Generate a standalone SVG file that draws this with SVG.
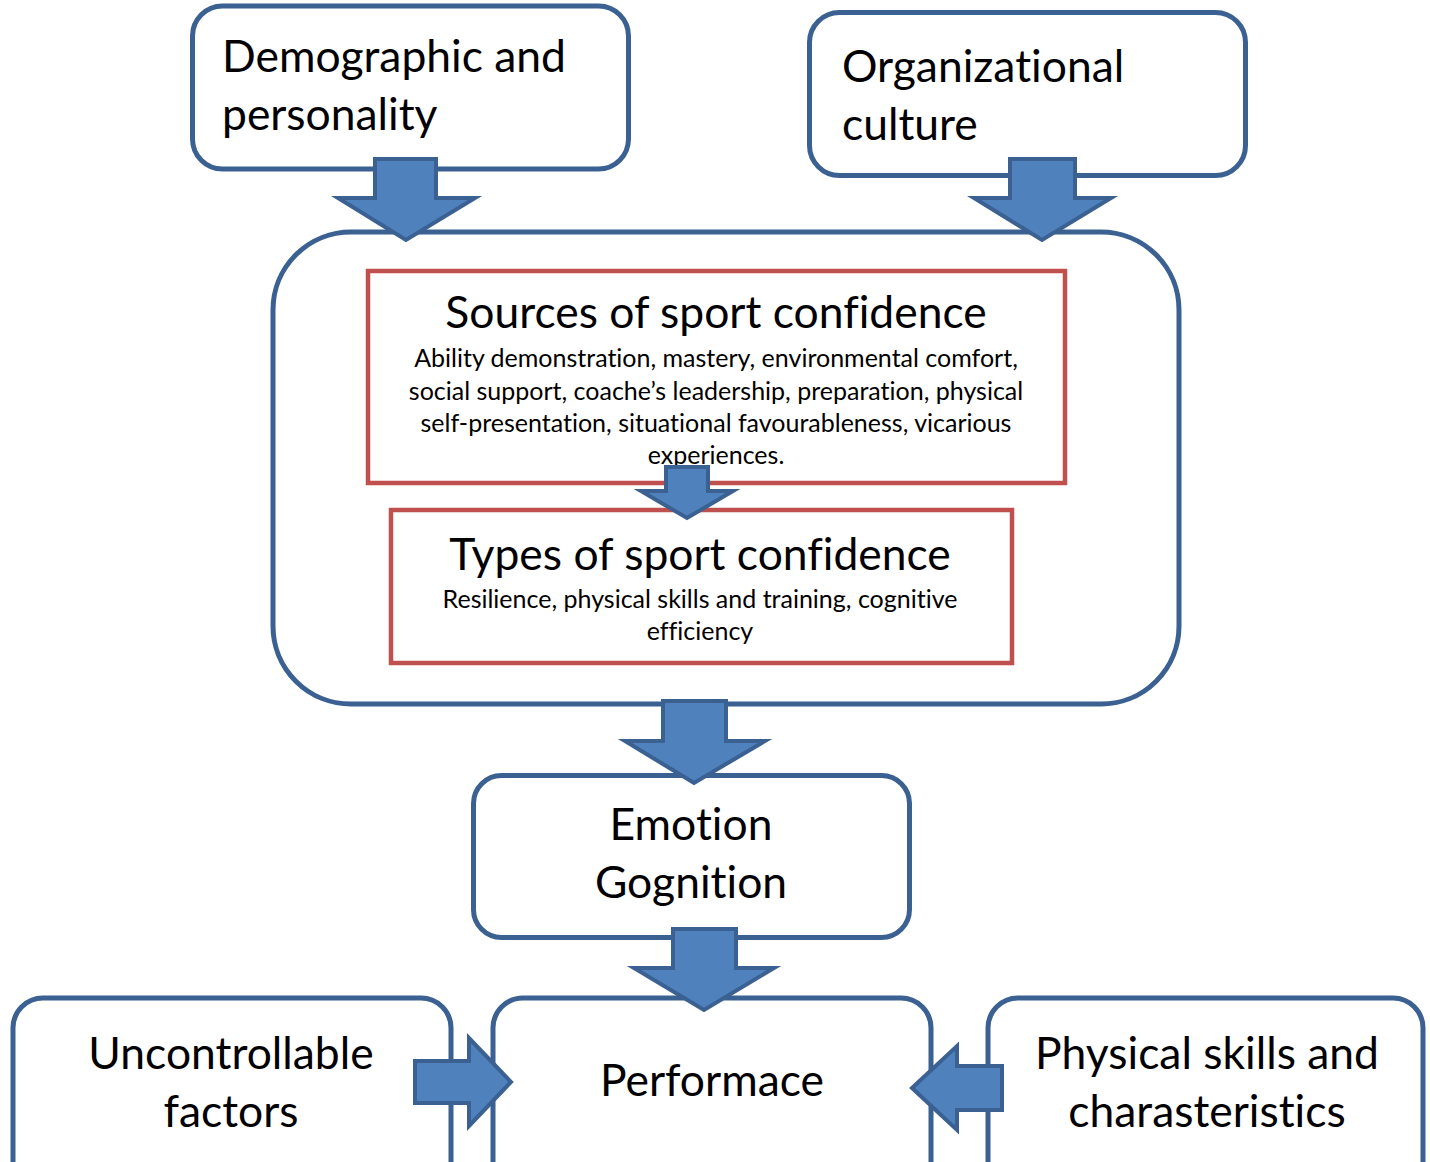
<svg xmlns="http://www.w3.org/2000/svg" width="1430" height="1162" viewBox="0 0 1430 1162">
<style>
.box{fill:#fff;stroke:#3A6191;stroke-width:5}
.red{fill:#fff;stroke:#C0504D;stroke-width:4.5}
.arr{fill:#4F81BD;stroke:#3A6191;stroke-width:4;stroke-linejoin:miter}
.big{font-family:Lato,"Open Sans",sans-serif;font-size:44.4px;fill:#000;font-variant-ligatures:none;font-feature-settings:"liga" 0}
.sm{font-family:Lato,"Open Sans",sans-serif;font-size:25px;fill:#000;font-variant-ligatures:none;font-feature-settings:"liga" 0}
.c{text-anchor:middle}
</style>
<rect width="1430" height="1162" fill="#fff"/>
<g id="container">
<rect class="box" x="273" y="232" width="906" height="472" rx="78"/>
</g>
<g id="demographic">
<rect class="box" x="192.5" y="6" width="436" height="163" rx="30"/>
<text class="big" x="222" y="72">Demographic and</text>
<text class="big" x="222" y="130">personality</text>
</g>
<g id="organizational">
<rect class="box" x="809.5" y="12.5" width="436" height="163" rx="30"/>
<text class="big" x="842" y="82">Organizational</text>
<text class="big" x="842" y="140">culture</text>
</g>
<g id="sources">
<rect class="red" x="368" y="271" width="697" height="212"/>
<text class="big c" x="716" y="328">Sources of sport confidence</text>
<text class="sm c" x="716" y="367">Ability demonstration, mastery, environmental comfort,</text>
<text class="sm c" x="716" y="400">social support, coache’s leadership, preparation, physical</text>
<text class="sm c" x="716" y="432">self-presentation, situational favourableness, vicarious</text>
<text class="sm c" x="716" y="464">experiences.</text>
</g>
<g id="types">
<rect class="red" x="391" y="510" width="621" height="153"/>
<text class="big c" x="700" y="570">Types of sport confidence</text>
<text class="sm c" x="700" y="608">Resilience, physical skills and training, cognitive</text>
<text class="sm c" x="700" y="640">efficiency</text>
</g>
<g id="emotion">
<rect class="box" x="473.5" y="775.5" width="436" height="162" rx="28"/>
<text class="big c" x="691" y="840">Emotion</text>
<text class="big c" x="691" y="898">Gognition</text>
</g>
<g id="uncontrollable">
<rect class="box" x="13" y="998" width="438" height="220" rx="30"/>
<text class="big c" x="231" y="1069">Uncontrollable</text>
<text class="big c" x="231" y="1127">factors</text>
</g>
<g id="performace">
<rect class="box" x="493" y="998" width="438" height="220" rx="30"/>
<text class="big c" x="712" y="1096">Performace</text>
</g>
<g id="physical">
<rect class="box" x="988" y="998" width="435" height="220" rx="30"/>
<text class="big c" x="1207" y="1069">Physical skills and</text>
<text class="big c" x="1207" y="1127">charasteristics</text>
</g>
<g id="connectors">
<path class="arr" d="M375,159 H436 V198 H475 L406,240 L338,198 H375 Z"/>
<path class="arr" d="M1010,159 H1075 V198 H1111 L1042,240 L974,198 H1010 Z"/>
<path class="arr" d="M666,467 H708 V491 H733 L687,518 L641,491 H666 Z"/>
<path class="arr" d="M663,701 H726 V741 H765 L694,783 L625,741 H663 Z"/>
<path class="arr" d="M673,929 H736 V968 H774 L704,1010 L634,968 H673 Z"/>
<path class="arr" d="M415,1061 H469 V1038 L511,1082 L469,1126 V1103 H415 Z"/>
<path class="arr" d="M1002,1066 H957 V1046 L912,1088 L957,1130 V1110 H1002 Z"/>
</g>
</svg>
